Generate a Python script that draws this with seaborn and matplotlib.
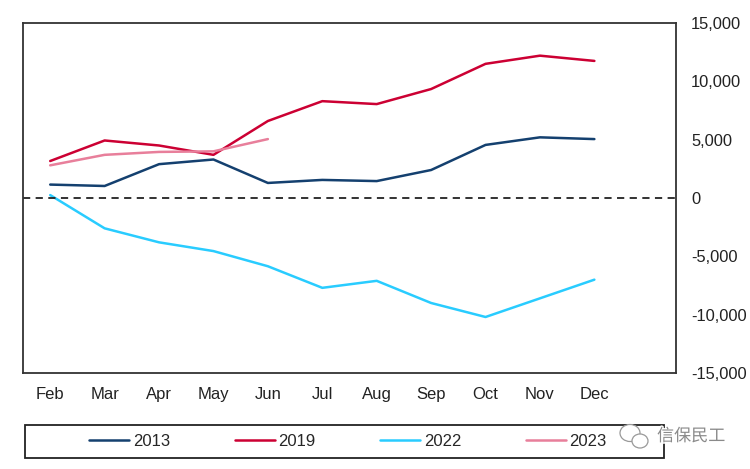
import pandas as pd
import seaborn as sns
import matplotlib.pyplot as plt
import matplotlib.patheffects as pe
from matplotlib.patches import Ellipse, Rectangle

months = ["Feb", "Mar", "Apr", "May", "Jun", "Jul", "Aug", "Sep", "Oct", "Nov", "Dec"]
v2013 = [1150, 1030, 2900, 3300, 1290, 1550, 1450, 2400, 4550, 5200, 5050]
v2019 = [3170, 4930, 4500, 3700, 6600, 8300, 8050, 9340, 11500, 12200, 11750]
v2022 = [250, -2600, -3800, -4550, -5850, -7700, -7100, -9000, -10200, -8600, -7000]
v2023 = [2800, 3700, 3950, 4000, 5050]
y_ticks = [-15000, -10000, -5000, 0, 5000, 10000, 15000]

colors = {"2013": "#14406f", "2019": "#cc0033", "2022": "#29ccff", "2023": "#e87f9b"}

# long table for seaborn
rows = []
for year, vals in [("2013", v2013), ("2019", v2019), ("2022", v2022), ("2023", v2023)]:
    for m, v in zip(months, vals):
        rows.append({"month": m, "year": year, "value": v})
data = pd.DataFrame(rows)

sns.set_style("white")
plt.rcParams["font.family"] = ["Liberation Sans", "DejaVu Sans"]

fig = plt.figure(figsize=(7.5, 4.69), dpi=100)
ax = fig.add_axes([23 / 750, 1 - 373 / 469, 653 / 750, 350 / 469])

sns.lineplot(data=data, x="month", y="value", hue="year", palette=colors,
             linewidth=1.8, sort=False, errorbar=None, ax=ax)
ax.axhline(0, color="#222222", linewidth=1.3, dashes=(4, 3))

ax.set_xlim(-0.5, 11.5)
ax.set_ylim(-15000, 15000)
ax.set_xlabel("")
ax.set_ylabel("")
ax.set_xticks(range(len(months)))
ax.set_xticklabels(months)
ax.yaxis.tick_right()
ax.set_yticks(y_ticks)
ax.set_yticklabels([f"{t:,}" for t in y_ticks])
ax.tick_params(axis="x", length=0, pad=10, labelsize=12, labelcolor="#222222")
ax.tick_params(axis="y", length=0, pad=10.8, labelsize=11.9, labelcolor="#222222")
for s in ax.spines.values():
    s.set_color("#333333")
    s.set_linewidth(1.3)

# legend box under the axes
handles, labels = ax.get_legend_handles_labels()
ax.get_legend().remove()
fig.add_artist(Rectangle((25 / 750, 1 - 458 / 469), 639 / 750, 33 / 469, transform=fig.transFigure,
                         facecolor="white", edgecolor="#222222", linewidth=1.3, zorder=1))
leg = fig.legend(handles, labels, ncol=4, loc="center",
                 bbox_to_anchor=(348 / 750, 1 - 441 / 469),
                 fontsize=12, frameon=False, handlelength=2.4, handletextpad=0.22,
                 columnspacing=3.87)
leg.set_zorder(2)

# watermark
halo = [pe.withStroke(linewidth=2, foreground="white")]
fig.text(657 / 750, 1 - 436 / 469, "信保民工", family=["Noto Sans CJK SC", "DejaVu Sans"],
         fontsize=12.3, color="#8a8a8a", va="center", ha="left", path_effects=halo, zorder=5)
for cx, cy, w, h in [(630, 433, 20, 17), (640, 441, 16, 14)]:
    fig.add_artist(Ellipse((cx / 750, 1 - cy / 469), w / 750, h / 469, transform=fig.transFigure,
                           facecolor="white", edgecolor="#999999", linewidth=0.9, zorder=5))

fig.savefig("out.png", dpi=100)
